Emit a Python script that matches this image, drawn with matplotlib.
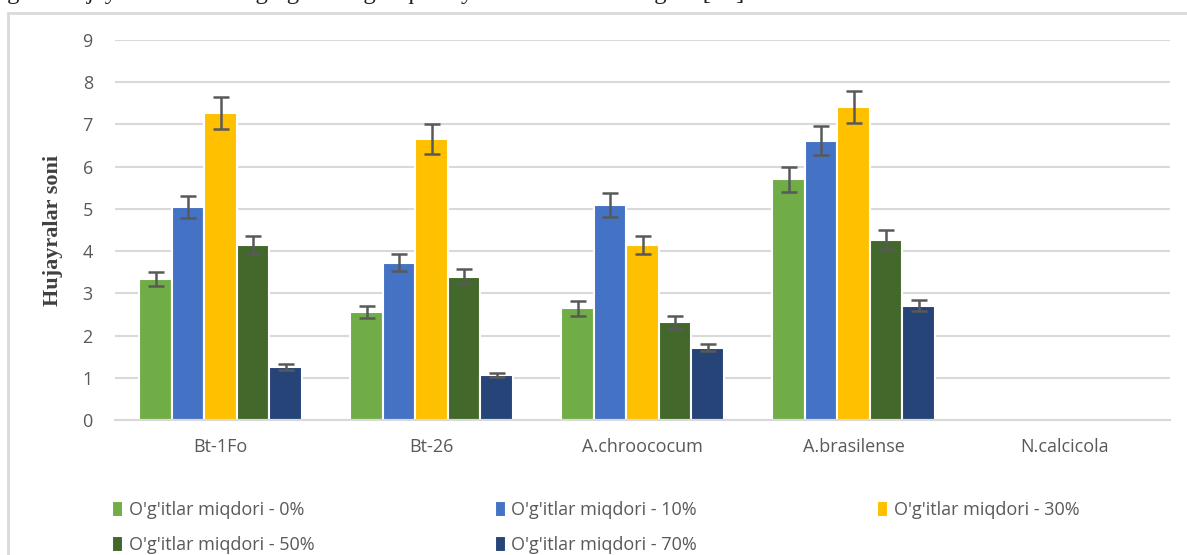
import numpy as np
import matplotlib
matplotlib.use("Agg")
import matplotlib.pyplot as plt
from matplotlib.patches import Rectangle

# data
strains = ['Bt-1Fo', 'Bt-26', 'A.chroococum', 'A.brasilense', 'N.calcicola']
series_names = ["O'g'itlar miqdori - 0%", "O'g'itlar miqdori - 10%",
                "O'g'itlar miqdori - 30%", "O'g'itlar miqdori - 50%",
                "O'g'itlar miqdori - 70%"]
vals_0 = [3.34, 2.55, 2.65, 5.70, 0]
vals_10 = [5.05, 3.73, 5.09, 6.62, 0]
vals_30 = [7.27, 6.65, 4.15, 7.41, 0]
vals_50 = [4.15, 3.39, 2.31, 4.27, 0]
vals_70 = [1.26, 1.07, 1.71, 2.71, 0]
err_0 = [0.17, 0.14, 0.18, 0.30, 0]
err_10 = [0.26, 0.20, 0.28, 0.35, 0]
err_30 = [0.37, 0.35, 0.22, 0.38, 0]
err_50 = [0.22, 0.18, 0.15, 0.23, 0]
err_70 = [0.07, 0.05, 0.08, 0.13, 0]
colors = ['#70ad47', '#4472c4', '#ffc000', '#43682b', '#264478']

all_vals = [vals_0, vals_10, vals_30, vals_50, vals_70]
all_errs = [err_0, err_10, err_30, err_50, err_70]

fig = plt.figure(figsize=(11.87, 5.55), dpi=100)
ax = fig.add_axes([0.0969, 0.2432, 0.8888, 0.6847])

# outer chart frame and the cut-off caption line above it
fig.patches.append(Rectangle((0.0067, -0.2), 1.2, 0.9766 + 0.2, transform=fig.transFigure,
                             fill=False, edgecolor='#d9d9d9', linewidth=2))
fig.text(0.0, 1 + 1 / 555,
         "igan   hujayralar   sonining   garchiligi   qanday   ta'sir   ko'rsatmagan  [13].",
         family='Liberation Serif', fontsize=18, color='#222222', va='baseline', ha='left')

x = np.arange(len(strains))
w = 0.154
bars = []
for i in range(5):
    pos = x + (i - 2) * w
    errs = [e if v > 0 else np.nan for v, e in zip(all_vals[i], all_errs[i])]
    b = ax.bar(pos, all_vals[i], width=w, color=colors[i], edgecolor='white',
               linewidth=1.5, label=series_names[i], zorder=2)
    bars.append(b)
    ax.errorbar(pos, all_vals[i], yerr=errs, fmt='none', ecolor='#595959',
                elinewidth=1.8, capsize=6, capthick=1.8, zorder=3)

ax.set_xlim(-0.5, 4.5)
ax.set_ylim(0, 9)
ax.set_yticks(range(0, 10))
ax.yaxis.grid(True, color='#d9d9d9', linewidth=1.5, zorder=0)
ax.set_axisbelow(True)
for s in ['top', 'right', 'left']:
    ax.spines[s].set_visible(False)
ax.spines['bottom'].set_color('#d9d9d9')
ax.spines['bottom'].set_linewidth(1.5)
ax.tick_params(axis='both', length=0, colors='#595959', labelsize=13)
ax.tick_params(axis='y', pad=16)
ax.tick_params(axis='x', pad=13)
ax.set_xticks(x)
ax.set_xticklabels(strains, family='Open Sans')
for t in ax.get_yticklabels():
    t.set_family('Open Sans')

ax.set_ylabel('Hujayralar soni', family='Liberation Serif', fontweight='bold',
              fontsize=16, color='#404040', labelpad=14)

# legend fills column by column, so reorder to read row by row
order = [0, 3, 1, 4, 2]
fig.legend([bars[k] for k in order], [series_names[k] for k in order],
           loc='lower left', bbox_to_anchor=(0.081, -0.028), ncol=3, frameon=False,
           prop={'family': 'Open Sans', 'size': 13}, labelcolor='#595959',
           handlelength=0.6, handleheight=1.0, handletextpad=0.3,
           columnspacing=10.0, labelspacing=0.95)

plt.savefig('out.png', dpi=100)
